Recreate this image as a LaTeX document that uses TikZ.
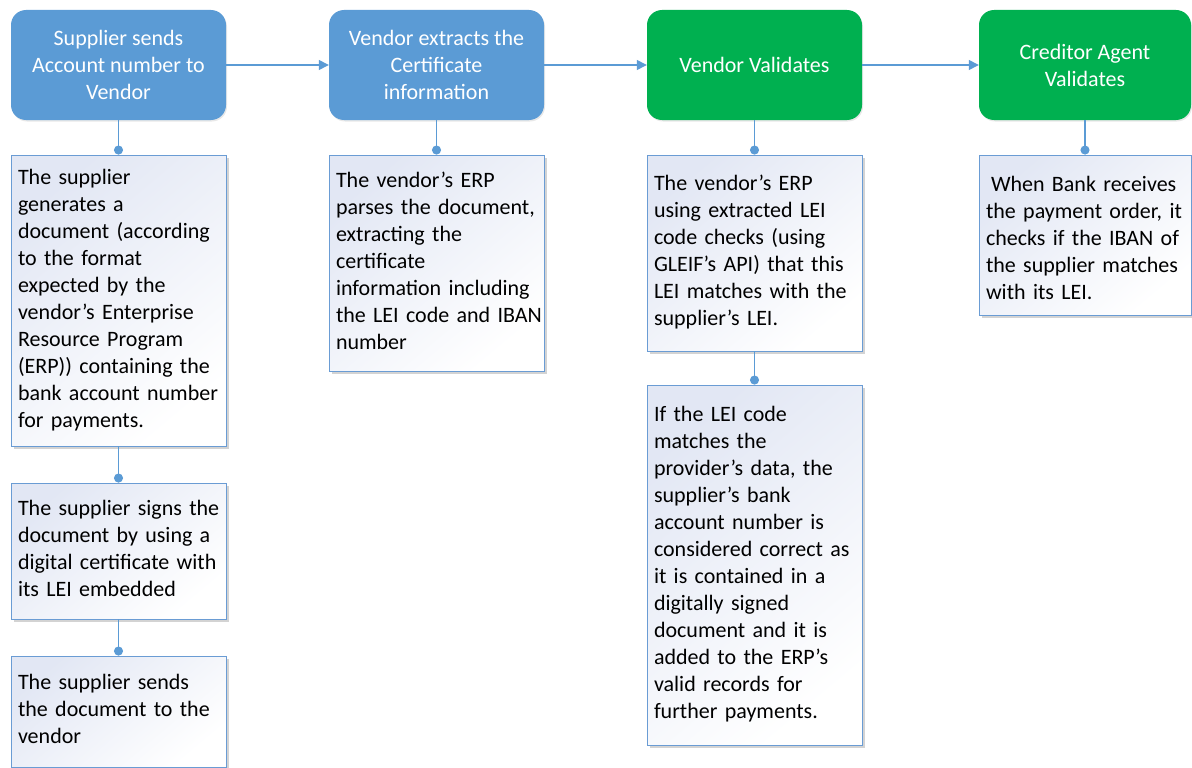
\documentclass[tikz,border=0pt]{standalone}
\usepackage{fontspec}
\setmainfont{Carlito}
\usetikzlibrary{arrows.meta,shadows}
\definecolor{stepblue}{HTML}{5B9BD5}
\definecolor{stepgreen}{HTML}{00B050}
\definecolor{linkblue}{HTML}{5B9BD5}
\definecolor{noteedge}{HTML}{6A9CD4}
\definecolor{notetint}{HTML}{E2E7F4}
\newcommand{\nlines}[1]{\begin{tabular}{@{}l@{}}#1\end{tabular}}
\begin{document}
\begin{tikzpicture}[x=1pt,y=-1pt,
  every node/.style={font=\fontsize{22}{27}\selectfont},
  headbox/.style={rounded corners=15pt, minimum width=215pt, minimum height=110pt,
    text=white, align=center, inner sep=0pt,
    drop shadow={shadow xshift=1pt, shadow yshift=-1.5pt, opacity=0.18}},
  bluebox/.style={headbox, fill=stepblue},
  greenbox/.style={headbox, fill=stepgreen},
  notebox/.style={draw=noteedge, line width=0.9pt, minimum width=215pt,
    text width=201pt, inner xsep=7pt, inner ysep=0pt, align=left, text=black,
    top color=notetint, bottom color=white, shading angle=40,
    drop shadow={shadow xshift=3pt, shadow yshift=-3pt, opacity=0.35}},
  flow/.style={draw=linkblue, line width=1.3pt, -{Triangle[length=10pt,width=10pt]}, fill=linkblue},
  tie/.style={draw=linkblue, line width=1.3pt, -{Circle[length=9pt,width=9pt]}, fill=linkblue}
]
\useasboundingbox (0,0) rectangle (1192,768);

% top step boxes
\node[bluebox]  (s1) at (118.5,65) {Supplier sends\\Account number to\\Vendor};
\node[bluebox]  (s2) at (436.5,65) {Vendor extracts the\\Certificate\\information};
\node[greenbox] (s3) at (754.5,65) {Vendor Validates};
\node[greenbox, minimum width=212pt] (s4) at (1085,65) {Creditor Agent\\Validates};

% notes
\node[notebox, minimum height=291pt] (n1a) at (118.5,300.5) {\nlines{The supplier\\generates a\\document (according\\to the format\\expected by the\\vendor’s Enterprise\\Resource Program\\(ERP)) containing the\\bank account number\\for payments.}};
\node[notebox, minimum height=136pt] (n1b) at (118.5,551) {\nlines{The supplier signs the\\document by using a\\digital certificate with\\its LEI embedded}};
\node[notebox, minimum height=111pt] (n1c) at (118.5,711.5) {\nlines{The supplier sends\\the document to the\\vendor}};
\node[notebox, minimum height=216pt] (n2) at (436.5,263) {\nlines{The vendor’s ERP\\parses the document,\\extracting the\\certificate\\information including\\the LEI code and IBAN\\number}};
\node[notebox, minimum height=196pt] (n3a) at (754.5,253) {\nlines{The vendor’s ERP\\using extracted LEI\\code checks (using\\GLEIF’s API) that this\\LEI matches with the\\supplier’s LEI.}};
\node[notebox, minimum height=360pt] (n3b) at (754.5,565) {\nlines{If the LEI code\\matches the\\provider’s data, the\\supplier’s bank\\account number is\\considered correct as\\it is contained in a\\digitally signed\\document and it is\\added to the ERP’s\\valid records for\\further payments.}};
\node[notebox, minimum width=212pt, text width=198pt, minimum height=160pt] (n4) at (1085,235) {\nlines{\rule{0pt}{28.9pt}\hspace*{5pt}When Bank receives\\the payment order, it\\checks if the IBAN of\\the supplier matches\\with its LEI.}};

% flow arrows
\draw[flow] (s1.east) -- (s2.west);
\draw[flow] (s2.east) -- (s3.west);
\draw[flow] (s3.east) -- (s4.west);

% ties
\draw[tie] (s1.south) -- (n1a.north);
\draw[tie] (n1a.south) -- (n1b.north);
\draw[tie] (n1b.south) -- (n1c.north);
\draw[tie] (s2.south) -- (n2.north);
\draw[tie] (s3.south) -- (n3a.north);
\draw[tie] (n3a.south) -- (n3b.north);
\draw[tie] (s4.south) -- (n4.north);
\end{tikzpicture}
\end{document}
